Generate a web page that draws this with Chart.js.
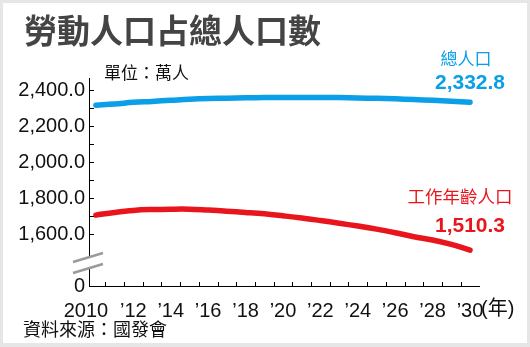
<!DOCTYPE html>
<html>
<head>
<meta charset="utf-8">
<script src="https://cdn.jsdelivr.net/npm/chart.js@4.4.1/dist/chart.umd.min.js"></script>
<style>
  html, body { margin: 0; padding: 0; background: #e6e6e6; }
  canvas { display: block; }
</style>
</head>
<body>
<canvas id="chart" width="530" height="347"></canvas>
<script>
// data (萬人)
const years = [2010, 2011, 2012, 2013, 2014, 2015, 2016, 2017, 2018, 2019, 2020,
               2021, 2022, 2023, 2024, 2025, 2026, 2027, 2028, 2029, 2030];
const totalPop = [2316, 2322, 2332, 2337, 2343, 2349, 2353, 2355, 2357, 2358, 2359,
                  2359, 2359, 2358, 2356, 2354, 2351, 2347, 2343, 2338, 2332.8];
const workingPop = [1705, 1720, 1731, 1736, 1738, 1738, 1733, 1727, 1720, 1712, 1701,
                    1689, 1675, 1660, 1644, 1627, 1607, 1585, 1567, 1542, 1510.3];
const yTicks = [1600, 1700, 1800, 1900, 2000, 2100, 2200, 2300, 2400];
const xLabelYears = [2010, 2012, 2014, 2016, 2018, 2020, 2022, 2024, 2026, 2028, 2030];
const yBreakValue = 1311; // bottom of the broken axis, shown as "0"

const FONT = '"Liberation Sans", "Noto Sans CJK TC", sans-serif';
const BLUE = "#0a9fe6";
const RED = "#e8161c";

const fmt = (v) => v.toLocaleString("en-US", { minimumFractionDigits: 1, maximumFractionDigits: 1 });

const decor = {
  id: "decor",
  beforeDraw(chart) {
    const ctx = chart.ctx;
    ctx.save();
    ctx.fillStyle = "#e6e6e6";
    ctx.fillRect(0, 0, chart.width, chart.height);
    ctx.fillStyle = "#ffffff";
    ctx.fillRect(3, 3, 524, 340);
    ctx.restore();
  },
  afterDraw(chart) {
    const ctx = chart.ctx;
    const { left, bottom } = chart.chartArea;
    const xs = chart.scales.x;
    const ys = chart.scales.y;
    ctx.save();

    // inward tick marks
    ctx.strokeStyle = "#000";
    ctx.lineWidth = 1;
    ctx.beginPath();
    yTicks.forEach((v) => {
      const y = Math.round(ys.getPixelForValue(v)) + 0.5;
      ctx.moveTo(left, y);
      ctx.lineTo(left + 5, y);
    });
    for (let i = 0; i < years.length - 1; i++) {
      const x = Math.round(xs.getPixelForValue((years[i] + years[i + 1]) / 2)) + 0.5;
      ctx.moveTo(x, bottom);
      ctx.lineTo(x, bottom - 4);
    }
    ctx.stroke();

    // axis break
    ctx.fillStyle = "#fff";
    ctx.beginPath();
    ctx.moveTo(left - 16, bottom - 24);
    ctx.lineTo(left + 14, bottom - 33);
    ctx.lineTo(left + 14, bottom - 22);
    ctx.lineTo(left - 16, bottom - 13);
    ctx.closePath();
    ctx.fill();
    ctx.strokeStyle = "#9a9a9a";
    ctx.lineWidth = 2.5;
    ctx.beginPath();
    ctx.moveTo(left - 16, bottom - 24);
    ctx.lineTo(left + 14, bottom - 33);
    ctx.moveTo(left - 16, bottom - 13);
    ctx.lineTo(left + 14, bottom - 22);
    ctx.stroke();

    // texts
    ctx.textBaseline = "middle";
    ctx.textAlign = "left";
    ctx.fillStyle = "#444";
    ctx.font = "bold 33px " + FONT;
    ctx.fillText("勞動人口占總人口數", 24, 34);

    ctx.fillStyle = "#111";
    ctx.font = "17px " + FONT;
    ctx.fillText("單位：萬人", 104, 74);
    ctx.font = "18px " + FONT;
    ctx.fillText("資料來源：國發會", 23, 331);

    ctx.font = "20px " + FONT;
    ctx.fillText("(年)", xs.getPixelForValue(2030) + 11, 309);

    ctx.textAlign = "center";
    ctx.fillStyle = BLUE;
    ctx.font = "17px " + FONT;
    ctx.fillText("總人口", 466, 60);
    ctx.font = "bold 21px " + FONT;
    ctx.fillText(fmt(totalPop[totalPop.length - 1]), 470, 83);

    ctx.fillStyle = RED;
    ctx.font = "17.5px " + FONT;
    ctx.fillText("工作年齡人口", 460, 198);
    ctx.font = "bold 21px " + FONT;
    ctx.fillText(fmt(workingPop[workingPop.length - 1]), 470, 226);

    ctx.restore();
  }
};

new Chart(document.getElementById("chart"), {
  type: "line",
  data: {
    datasets: [
      {
        label: "總人口",
        data: years.map((y, i) => ({ x: y, y: totalPop[i] })),
        borderColor: BLUE,
        borderWidth: 5.5,
        borderCapStyle: "round",
        pointRadius: 0,
        tension: 0.4,
      },
      {
        label: "工作年齡人口",
        data: years.map((y, i) => ({ x: y, y: workingPop[i] })),
        borderColor: RED,
        borderWidth: 5.5,
        borderCapStyle: "round",
        pointRadius: 0,
        tension: 0.4,
      },
    ],
  },
  options: {
    responsive: false,
    animation: false,
    layout: { padding: { top: 78, right: 51, left: 0, bottom: 0 }, autoPadding: false },
    plugins: { legend: { display: false }, tooltip: { enabled: false } },
    scales: {
      x: {
        type: "linear",
        min: 2009.63,
        max: 2030.48,
        afterBuildTicks: (s) => { s.ticks = xLabelYears.map((v) => ({ value: v })); },
        afterFit: (s) => { s.height = 61; },
        grid: { drawOnChartArea: false, drawTicks: false },
        border: { display: true, color: "#000", width: 1 },
        ticks: {
          autoSkip: false,
          maxRotation: 0,
          padding: 13,
          color: "#111",
          font: { family: FONT, size: 20 },
          // the first label sits a little left of its point, as in the source
          callback: (v) => (v === years[0] ? String(v) + "\u2003" : "\u2019" + String(v).slice(2)),
        },
      },
      y: {
        min: yBreakValue,
        max: 2467,
        afterBuildTicks: (s) => { s.ticks = [yBreakValue, ...yTicks].map((v) => ({ value: v })); },
        afterFit: (s) => { s.width = 89; },
        grid: { drawOnChartArea: false, drawTicks: false },
        border: { display: true, color: "#000", width: 1 },
        ticks: {
          autoSkip: false,
          padding: 4,
          color: "#111",
          font: { family: FONT, size: 20 },
          callback: (v) => (v === yBreakValue ? "0" : v % 200 === 0 ? fmt(v) : ""),
        },
      },
    },
  },
  plugins: [decor],
});
</script>
</body>
</html>
